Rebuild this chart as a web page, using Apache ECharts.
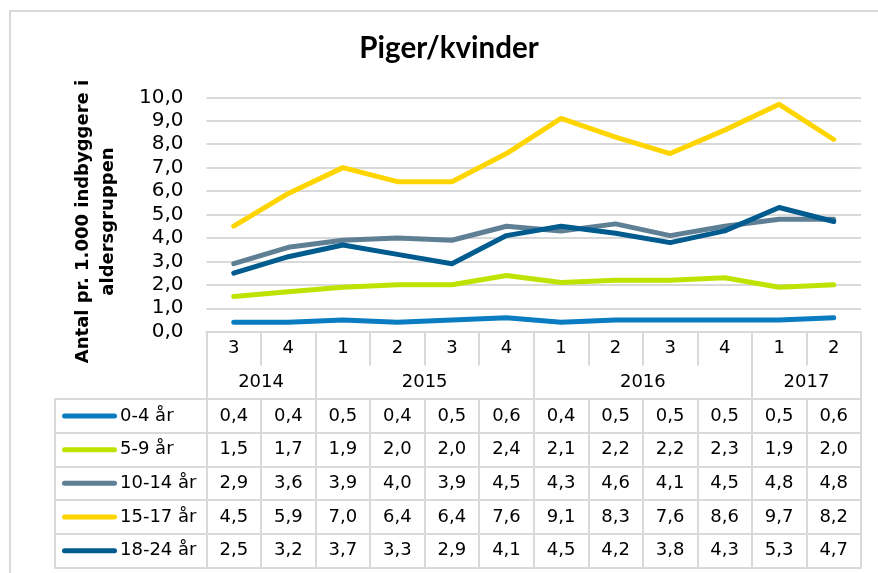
<!DOCTYPE html>
<html>
<head>
<meta charset="utf-8">
<script src="https://cdn.jsdelivr.net/npm/echarts@6/dist/echarts.min.js"></script>
<style>
html,body{margin:0;padding:0;background:#fff;}
#chart{width:878px;height:573px;}
</style>
</head>
<body>
<div id="chart"></div>
<script>
// ---- data ----
const titleText = 'Piger/kvinder';
const yAxisTitle = 'Antal pr. 1.000 indbyggere i\naldersgruppen';
const quarters = ['3','4','1','2','3','4','1','2','3','4','1','2'];
const years = ['2014','2015','2016','2017'];
const quartersPerYear = [2, 4, 4, 2];
const seriesNames = ['0-4 år','5-9 år','10-14 år','15-17 år','18-24 år'];
const age0_4   = [0.4,0.4,0.5,0.4,0.5,0.6,0.4,0.5,0.5,0.5,0.5,0.6];
const age5_9   = [1.5,1.7,1.9,2.0,2.0,2.4,2.1,2.2,2.2,2.3,1.9,2.0];
const age10_14 = [2.9,3.6,3.9,4.0,3.9,4.5,4.3,4.6,4.1,4.5,4.8,4.8];
const age15_17 = [4.5,5.9,7.0,6.4,6.4,7.6,9.1,8.3,7.6,8.6,9.7,8.2];
const age18_24 = [2.5,3.2,3.7,3.3,2.9,4.1,4.5,4.2,3.8,4.3,5.3,4.7];
const yMin = 0, yMax = 10, yStep = 1;

// ---- styling ----
const seriesValues = [age0_4, age5_9, age10_14, age15_17, age18_24];
const colors = ['#0A7CC1','#C0E200','#5F7F95','#FFD500','#005B8E'];
const GRID = '#D9D9D9';
const FONT = 'DejaVu Sans';
const ROW = 33.7;
const fmt = v => v.toFixed(1).replace('.', ',');

// year boundaries and centres in cell units
const yearBounds = [0];
quartersPerYear.forEach(n => yearBounds.push(yearBounds[yearBounds.length-1] + n));
const yearCenters = years.map((y,i) => (yearBounds[i] + yearBounds[i+1]) / 2);

const tickStyle = {show:true, lineStyle:{color:GRID, width:2}};
const lineStyle = {show:true, onZero:false, lineStyle:{color:GRID, width:2}};
const labelBase = {color:'#000', fontFamily:FONT, fontSize:18, verticalAlign:'middle', margin:ROW/2};

const xAxes = [];
// quarter row
xAxes.push({
  type:'category', gridIndex:0, position:'bottom', offset:0, data:quarters, boundaryGap:true,
  axisLine:lineStyle,
  axisTick:Object.assign({interval:0, length:ROW}, tickStyle),
  axisLabel:Object.assign({interval:0}, labelBase),
  splitLine:{show:false}
});
// year row (no horizontal line between the two category levels)
xAxes.push({
  type:'value', gridIndex:0, position:'bottom', offset:ROW, min:0, max:quarters.length,
  axisLine:{show:true, onZero:false, lineStyle:{color:'rgba(0,0,0,0)', width:0}},
  axisTick:Object.assign({customValues:yearBounds, length:ROW}, tickStyle),
  axisLabel:Object.assign({customValues:yearCenters, formatter:(v)=>years[yearCenters.indexOf(v)] || ''}, labelBase),
  splitLine:{show:false}
});
// data rows
seriesValues.forEach((vals, i) => {
  xAxes.push({
    type:'category', gridIndex:0, position:'bottom', offset:ROW*(2+i), data:quarters, boundaryGap:true,
    axisLine:lineStyle,
    axisTick:Object.assign({interval:0, length:ROW}, tickStyle),
    axisLabel:Object.assign({interval:0, formatter:(v, idx)=>fmt(vals[idx])}, labelBase),
    splitLine:{show:false}
  });
});
// bottom line main table
xAxes.push({
  type:'category', gridIndex:0, position:'bottom', offset:ROW*7, data:quarters,
  axisLine:lineStyle, axisTick:{show:false}, axisLabel:{show:false}, splitLine:{show:false}
});
// legend column
const rich = {sp:{width:7}, t:{fontSize:18, fontFamily:FONT, color:'#000', padding:[0,0,0,3]}};
colors.forEach((c,i) => { rich['m'+i] = {width:55, height:5, backgroundColor:c, borderRadius:2.5}; });
seriesNames.forEach((name, i) => {
  xAxes.push({
    type:'value', gridIndex:1, position:'bottom', offset:ROW*(2+i), min:0, max:1,
    axisLine:lineStyle,
    axisTick:Object.assign({customValues:[0,1], length:ROW}, tickStyle),
    axisLabel:Object.assign({customValues:[0], align:'left', formatter:()=>'{sp|}{m'+i+'|}{t|'+name+'}', rich:rich}, labelBase),
    splitLine:{show:false}
  });
});
xAxes.push({
  type:'value', gridIndex:1, position:'bottom', offset:ROW*7, min:0, max:1,
  axisLine:lineStyle, axisTick:{show:false}, axisLabel:{show:false}, splitLine:{show:false}
});

const option = {
  animation:false,
  backgroundColor:'#fff',
  title:{
    text:titleText, left:444, top:28, textAlign:'center',
    textStyle:{fontFamily:'Lato', fontWeight:'bold', fontSize:29.5, color:'#000'}
  },
  grid:[
    {left:206.5, right:17, top:97.3, bottom:241.3, containLabel:false},
    {left:55, width:151.5, top:97.3, bottom:241.3, containLabel:false}
  ],
  xAxis:xAxes,
  yAxis:[
    {
      type:'value', gridIndex:0, min:yMin, max:yMax, interval:yStep,
      name:yAxisTitle, nameLocation:'middle', nameRotate:90, nameGap:86,
      nameTextStyle:{fontFamily:FONT, fontWeight:'bold', fontSize:18, lineHeight:25, color:'#000', padding:[0,14,0,0]},
      axisLine:{show:false}, axisTick:{show:false},
      axisLabel:{formatter:fmt, color:'#000', fontFamily:FONT, fontSize:20, margin:23},
      splitLine:{lineStyle:{color:GRID, width:2}}
    },
    {type:'value', gridIndex:1, min:0, max:1, show:false, splitLine:{show:false}}
  ],
  series:seriesNames.map((name,i)=>({
    name:name, type:'line', xAxisIndex:0, yAxisIndex:0, data:seriesValues[i],
    symbol:'none', smooth:false,
    lineStyle:{color:colors[i], width:5, cap:'round', join:'round'},
    itemStyle:{color:colors[i]}
  })),
  graphic:[{
    type:'rect', silent:true, z:-10,
    shape:{x:10, y:11, width:900, height:600},
    style:{fill:'none', stroke:GRID, lineWidth:2}
  }]
};
const chart = echarts.init(document.getElementById('chart'), null, {renderer:'canvas'});
chart.setOption(option);
</script>
</body>
</html>
